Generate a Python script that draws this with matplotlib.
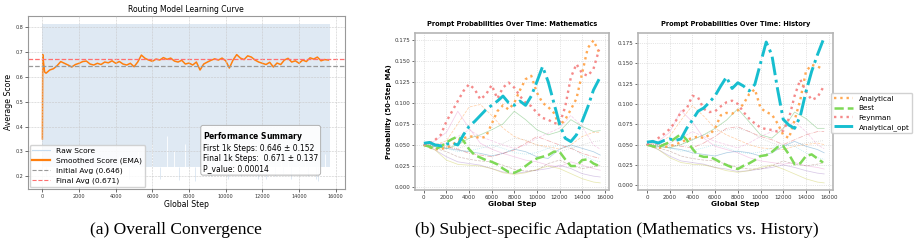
import numpy as np
import matplotlib
matplotlib.use("Agg")
import matplotlib.pyplot as plt
from matplotlib.lines import Line2D

# ---- panel (a): overall convergence ----
ema_warmup_steps = [0, 20, 60, 120]
ema_warmup = [0.35, 0.69, 0.66, 0.62]
ema_values = [
    0.615, 0.628, 0.633, 0.645, 0.662, 0.655, 0.648, 0.640, 0.650, 0.655,
    0.662, 0.664, 0.652, 0.648, 0.655, 0.650, 0.660, 0.657, 0.665, 0.655,
    0.662, 0.652, 0.648, 0.655, 0.641, 0.660, 0.688, 0.675, 0.668, 0.663,
    0.672, 0.668, 0.678, 0.671, 0.676, 0.664, 0.660, 0.667, 0.652, 0.656,
    0.648, 0.660, 0.628, 0.652, 0.660, 0.667, 0.673, 0.668, 0.676, 0.665,
    0.636, 0.668, 0.690, 0.676, 0.670, 0.685, 0.680, 0.668, 0.660, 0.655,
    0.650, 0.659, 0.640, 0.656, 0.650, 0.668, 0.675, 0.660, 0.665, 0.655,
    0.668, 0.662, 0.677, 0.672, 0.680, 0.665, 0.670, 0.668,
]
ema_step_size = 200

# raw score: dense band between a floor and a ceiling, with some deeper dips
# and some stretches where the raw score stayed above the floor
raw_span = [0, 15700]
raw_floor = 0.235
raw_high = 0.815
raw_dip_steps = [200, 800, 2300, 3720, 4720, 5600, 6430, 7430, 8330, 9200, 9800,
                 10140, 10850, 11770, 12200, 12670, 13100, 13560, 14480, 14900, 15020]
raw_dip_lows = [0.20, 0.22, 0.22, 0.20, 0.19, 0.21, 0.19, 0.185, 0.18, 0.20, 0.21,
                0.19, 0.20, 0.19, 0.19, 0.20, 0.21, 0.19, 0.20, 0.19, 0.18]
raw_gap_steps = [1400, 2600, 4200, 5200, 6000, 6800, 7200, 7800, 8800, 9400, 9600,
                 10600, 11200, 12000, 13000, 13400, 14000, 14300, 15400]
raw_gap_tops = [0.26, 0.27, 0.28, 0.30, 0.33, 0.36, 0.30, 0.33, 0.35, 0.30, 0.32,
                0.34, 0.31, 0.30, 0.33, 0.28, 0.31, 0.27, 0.29]

initial_avg = 0.646
final_avg = 0.671
first_std = 0.152
final_std = 0.137
p_value = 0.00014

# ---- panel (b): prompt probabilities ----
main_steps = np.arange(0, 16000, 500)
faint_steps = [0, 1000, 2000, 3000, 4000, 5000, 6000, 7000, 8000, 9000,
               10000, 11000, 12000, 13000, 14000, 15000, 15600]
highlight_names = ["Analytical", "Best", "Feynman", "Analytical_opt"]

math_analytical = [0.050, 0.047, 0.045, 0.045, 0.047, 0.050, 0.055, 0.058, 0.060, 0.060,
                   0.058, 0.060, 0.075, 0.090, 0.097, 0.092, 0.100, 0.115, 0.128, 0.132,
                   0.112, 0.100, 0.095, 0.088, 0.073, 0.080, 0.092, 0.105, 0.135, 0.165,
                   0.174, 0.160]
math_best = [0.050, 0.048, 0.045, 0.048, 0.053, 0.057, 0.060, 0.055, 0.045, 0.038,
             0.035, 0.032, 0.030, 0.027, 0.022, 0.018, 0.017, 0.020, 0.025, 0.030,
             0.034, 0.036, 0.038, 0.042, 0.042, 0.033, 0.025, 0.025, 0.032, 0.033,
             0.028, 0.025]
math_feynman = [0.050, 0.052, 0.056, 0.062, 0.078, 0.090, 0.102, 0.114, 0.122, 0.116,
                0.104, 0.110, 0.121, 0.105, 0.118, 0.124, 0.118, 0.108, 0.100, 0.096,
                0.088, 0.082, 0.080, 0.076, 0.075, 0.095, 0.130, 0.146, 0.135, 0.132,
                0.140, 0.163]
math_opt = [0.052, 0.053, 0.050, 0.049, 0.051, 0.052, 0.050, 0.062, 0.072, 0.078,
            0.085, 0.092, 0.097, 0.102, 0.108, 0.100, 0.097, 0.102, 0.097, 0.108,
            0.125, 0.143, 0.125, 0.100, 0.075, 0.058, 0.054, 0.062, 0.078, 0.095,
            0.115, 0.128]

hist_analytical = [0.050, 0.048, 0.046, 0.047, 0.048, 0.050, 0.053, 0.056, 0.058, 0.060,
                   0.058, 0.062, 0.070, 0.086, 0.089, 0.088, 0.092, 0.100, 0.112, 0.118,
                   0.095, 0.090, 0.087, 0.076, 0.062, 0.058, 0.080, 0.105, 0.140, 0.148,
                   0.146, 0.143]
hist_best = [0.050, 0.048, 0.047, 0.050, 0.053, 0.058, 0.063, 0.056, 0.045, 0.037,
             0.035, 0.035, 0.032, 0.028, 0.025, 0.022, 0.020, 0.024, 0.027, 0.031,
             0.036, 0.037, 0.041, 0.047, 0.048, 0.038, 0.026, 0.027, 0.036, 0.038,
             0.033, 0.028]
hist_feynman = [0.050, 0.053, 0.058, 0.063, 0.069, 0.078, 0.090, 0.094, 0.110, 0.108,
                0.094, 0.090, 0.091, 0.097, 0.102, 0.104, 0.100, 0.090, 0.082, 0.076,
                0.071, 0.069, 0.068, 0.066, 0.067, 0.082, 0.110, 0.130, 0.115, 0.105,
                0.108, 0.120]
hist_opt = [0.053, 0.054, 0.052, 0.055, 0.057, 0.055, 0.057, 0.070, 0.080, 0.091,
            0.095, 0.102, 0.110, 0.122, 0.133, 0.119, 0.126, 0.122, 0.116, 0.124,
            0.150, 0.176, 0.160, 0.118, 0.081, 0.074, 0.070, 0.085, 0.115, 0.140,
            0.160, 0.178]

math_others = [
    [0.050, 0.055, 0.065, 0.090, 0.070, 0.052, 0.045, 0.040, 0.036, 0.032, 0.030, 0.026, 0.024, 0.030, 0.026, 0.022, 0.020],
    [0.050, 0.050, 0.055, 0.075, 0.095, 0.098, 0.085, 0.070, 0.060, 0.055, 0.050, 0.048, 0.045, 0.050, 0.060, 0.065, 0.065],
    [0.050, 0.048, 0.046, 0.050, 0.058, 0.062, 0.068, 0.075, 0.090, 0.080, 0.068, 0.062, 0.066, 0.080, 0.072, 0.066, 0.067],
    [0.050, 0.048, 0.046, 0.044, 0.042, 0.040, 0.037, 0.040, 0.045, 0.042, 0.036, 0.034, 0.045, 0.050, 0.046, 0.042, 0.038],
    [0.050, 0.044, 0.036, 0.030, 0.028, 0.026, 0.022, 0.018, 0.016, 0.018, 0.020, 0.022, 0.026, 0.022, 0.016, 0.013, 0.012],
    [0.050, 0.044, 0.032, 0.027, 0.026, 0.025, 0.022, 0.017, 0.015, 0.017, 0.021, 0.025, 0.022, 0.016, 0.010, 0.006, 0.005],
    [0.050, 0.046, 0.042, 0.036, 0.033, 0.031, 0.030, 0.026, 0.021, 0.019, 0.020, 0.028, 0.032, 0.026, 0.022, 0.024, 0.026],
    [0.050, 0.049, 0.047, 0.046, 0.050, 0.048, 0.046, 0.052, 0.058, 0.056, 0.050, 0.046, 0.042, 0.046, 0.050, 0.054, 0.055],
    [0.050, 0.051, 0.052, 0.060, 0.068, 0.060, 0.055, 0.050, 0.046, 0.050, 0.058, 0.064, 0.070, 0.085, 0.072, 0.050, 0.045],
    [0.050, 0.050, 0.046, 0.042, 0.043, 0.046, 0.050, 0.046, 0.041, 0.039, 0.041, 0.046, 0.050, 0.048, 0.038, 0.032, 0.030],
    [0.050, 0.050, 0.048, 0.045, 0.040, 0.038, 0.036, 0.040, 0.044, 0.052, 0.060, 0.055, 0.050, 0.046, 0.040, 0.036, 0.034],
]
hist_others = [
    [0.050, 0.054, 0.065, 0.092, 0.078, 0.058, 0.048, 0.044, 0.040, 0.034, 0.030, 0.028, 0.026, 0.028, 0.024, 0.022, 0.020],
    [0.050, 0.052, 0.060, 0.080, 0.098, 0.085, 0.070, 0.062, 0.056, 0.050, 0.046, 0.045, 0.044, 0.048, 0.050, 0.052, 0.050],
    [0.050, 0.048, 0.046, 0.050, 0.056, 0.062, 0.070, 0.080, 0.094, 0.078, 0.062, 0.058, 0.070, 0.090, 0.082, 0.070, 0.070],
    [0.050, 0.048, 0.046, 0.044, 0.040, 0.038, 0.036, 0.040, 0.042, 0.040, 0.036, 0.040, 0.048, 0.054, 0.048, 0.044, 0.040],
    [0.050, 0.044, 0.036, 0.030, 0.028, 0.026, 0.022, 0.020, 0.017, 0.018, 0.020, 0.022, 0.025, 0.022, 0.018, 0.015, 0.014],
    [0.050, 0.044, 0.034, 0.028, 0.026, 0.025, 0.022, 0.018, 0.016, 0.018, 0.022, 0.025, 0.020, 0.014, 0.008, 0.004, 0.003],
    [0.050, 0.046, 0.042, 0.036, 0.033, 0.031, 0.030, 0.026, 0.022, 0.020, 0.020, 0.024, 0.030, 0.026, 0.024, 0.026, 0.028],
    [0.050, 0.049, 0.048, 0.050, 0.056, 0.062, 0.066, 0.068, 0.070, 0.066, 0.058, 0.052, 0.048, 0.050, 0.052, 0.054, 0.055],
    [0.050, 0.051, 0.052, 0.058, 0.066, 0.060, 0.054, 0.050, 0.046, 0.052, 0.060, 0.066, 0.070, 0.078, 0.066, 0.050, 0.045],
    [0.050, 0.050, 0.046, 0.042, 0.043, 0.046, 0.050, 0.046, 0.041, 0.039, 0.041, 0.046, 0.050, 0.048, 0.040, 0.034, 0.032],
    [0.050, 0.050, 0.050, 0.048, 0.046, 0.052, 0.060, 0.070, 0.072, 0.066, 0.060, 0.056, 0.050, 0.056, 0.062, 0.066, 0.066],
]

faint_colors = ['#e377c2', '#ff7f0e', '#2ca02c', '#1f77b4', '#9467bd', '#bcbd22',
                '#8c564b', '#7f7f7f', '#e377c2', '#17becf', '#d62728']
faint_styles = ['-', '--', '-', '-', '-', '-', '--', ':', '--', ':', '-.']
hl_colors = ['#ffa954', '#7ed957', '#f58a8a', '#17becf']
hl_styles = [':', '--', ':', '-.']
hl_widths = [1.7, 1.8, 1.7, 2.1]

band_color = '#dfe9f3'

fig = plt.figure(figsize=(9.15, 2.46), dpi=100)

# ---------------- (a) ----------------
ax = fig.add_axes([0.0306, 0.232, 0.346, 0.704])
ax.fill_between(raw_span, raw_floor, raw_high, color=band_color, lw=0)
ax.vlines(raw_dip_steps, raw_dip_lows, raw_floor, color=band_color, lw=0.7)
ax.vlines(raw_gap_steps, raw_floor, raw_gap_tops, color='white', lw=0.6)
ema_steps = np.concatenate([ema_warmup_steps, ema_step_size * (1 + np.arange(len(ema_values)))])
ema = np.concatenate([ema_warmup, ema_values])
ax.plot(ema_steps, ema, color='#ff7f0e', lw=1.1)
ax.axhline(initial_avg, color='#999999', ls='--', lw=0.9)
ax.axhline(final_avg, color='#ff7070', ls='--', lw=0.9)

ax.set_title("Routing Model Learning Curve", fontsize=5.5, pad=3)
ax.set_xlabel("Global Step", fontsize=5.6, labelpad=1)
ax.set_ylabel("Average Score", fontsize=5.6, labelpad=2)
ax.set_xticks(np.arange(0, 16001, 2000))
ax.tick_params(labelsize=3.5, length=2, width=0.5, pad=1.5, colors='#333333')
ax.grid(True, ls='--', lw=0.4, color='#c8c8c8')
ax.set_axisbelow(False)
for s in ax.spines.values():
    s.set_color('#999999')
    s.set_linewidth(0.8)

handles = [
    Line2D([], [], color='#c6dbef', lw=0.8),
    Line2D([], [], color='#ff7f0e', lw=1.6),
    Line2D([], [], color='#999999', ls='--', lw=0.8),
    Line2D([], [], color='#ff7070', ls='--', lw=0.8),
]
labels = ["Raw Score", "Smoothed Score (EMA)",
          f"Initial Avg ({initial_avg:.3f})", f"Final Avg ({final_avg:.3f})"]
ax.legend(handles, labels, loc='lower left', fontsize=5.4, framealpha=0.85,
          borderaxespad=0.25, handlelength=2.4, labelspacing=0.45, borderpad=0.35)

summary = (r"$\bf{Performance\ Summary}$" + "\n"
           f"First 1k Steps: {initial_avg:.3f} \u00b1 {first_std:.3f}\n"
           f"Final 1k Steps:  {final_avg:.3f} \u00b1 {final_std:.3f}\n"
           f"P_value: {p_value:.5f}")
ax.text(0.553, 0.342, summary, transform=ax.transAxes, fontsize=5.5,
        va='top', ha='left', linespacing=1.15,
        bbox=dict(boxstyle='round,pad=0.3', facecolor='white', edgecolor='#aaaaaa',
                  lw=0.7, alpha=0.9))

# ---------------- (b) ----------------
def prompt_panel(ax, title, others, highlights):
    for i, series in enumerate(others):
        ax.plot(faint_steps, series, color=faint_colors[i % len(faint_colors)],
                ls=faint_styles[i % len(faint_styles)], lw=0.55, alpha=0.35)
    for i, series in enumerate(highlights):
        ax.plot(main_steps, series, color=hl_colors[i], ls=hl_styles[i],
                lw=hl_widths[i], label=highlight_names[i])
    ax.set_title(title, fontsize=4.8, fontweight='bold', pad=5)
    ax.set_xlabel("Global Step", fontsize=5.3, fontweight='bold', labelpad=1)
    ax.set_xticks(np.arange(0, 16001, 2000))
    ax.set_yticks(np.arange(0, 0.176, 0.025))
    ax.tick_params(labelsize=4, length=2, width=0.5, pad=1.5, colors='#333333')
    ax.grid(True, ls=':', lw=0.5, color='#cccccc')
    for s in ax.spines.values():
        s.set_color('#b5b5b5')
        s.set_linewidth(1.2)

ax1 = fig.add_axes([0.4536, 0.2276, 0.212, 0.637])
prompt_panel(ax1, "Prompt Probabilities Over Time: Mathematics", math_others,
             [math_analytical, math_best, math_feynman, math_opt])
ax1.set_ylabel("Probability (50-Step MA)", fontsize=4.9, fontweight='bold', labelpad=2)

ax2 = fig.add_axes([0.6973, 0.2276, 0.2131, 0.637])
prompt_panel(ax2, "Prompt Probabilities Over Time: History", hist_others,
             [hist_analytical, hist_best, hist_feynman, hist_opt])
ax2.legend(loc='center left', bbox_to_anchor=(0.99, 0.49), fontsize=5.2,
           borderaxespad=0, handlelength=2.6, labelspacing=0.45, framealpha=0.9)

fig.text(0.192, 0.065, "(a) Overall Convergence", family='Liberation Serif',
         fontsize=12.5, ha='center', va='center')
fig.text(0.674, 0.065, "(b) Subject-specific Adaptation (Mathematics vs. History)",
         family='Liberation Serif', fontsize=12.5, ha='center', va='center')

fig.savefig("out.png", dpi=100)
